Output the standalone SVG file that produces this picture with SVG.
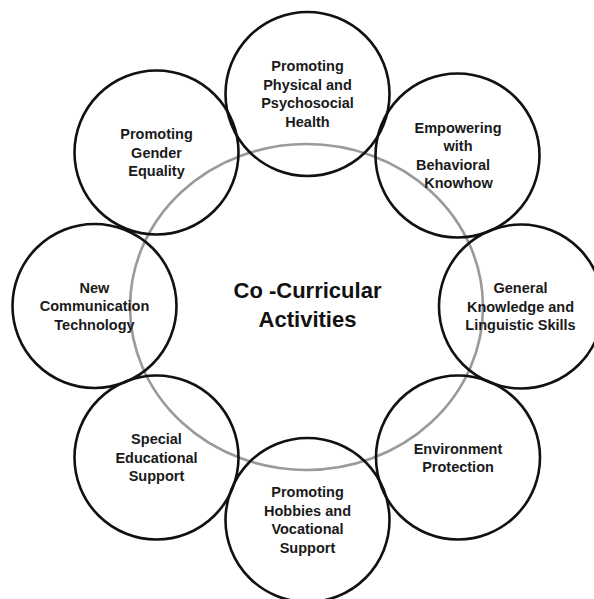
<svg xmlns="http://www.w3.org/2000/svg" width="594" height="599" viewBox="0 0 594 599">
<style>
.bg{fill:#ffffff}
.node{fill:none;stroke:#111111;stroke-width:2.6}
.ring{fill:none;stroke:#9a9a9a;stroke-width:2.6}
.lbl{font-family:"Liberation Sans",Arial,sans-serif;font-weight:bold;font-size:14.5px;fill:#1a1a1a;text-anchor:middle}
.title{font-family:"Liberation Sans",Arial,sans-serif;font-weight:bold;font-size:22px;fill:#111111;text-anchor:middle}
</style>
<rect class="bg" x="0" y="0" width="594" height="599"/>
<g id="ring">
<ellipse class="ring" cx="306.5" cy="307" rx="176.5" ry="163"/>
</g>
<g id="center">
<text class="title" x="307.5" y="298">Co -Curricular</text>
<text class="title" x="307.5" y="327">Activities</text>
</g>
<g id="n-health">
<circle class="node" cx="307.5" cy="94" r="82"/>
<text class="lbl" x="307.5" y="71.2">Promoting</text>
<text class="lbl" x="307.5" y="89.7">Physical and</text>
<text class="lbl" x="307.5" y="108.2">Psychosocial</text>
<text class="lbl" x="307.5" y="126.7">Health</text>
</g>
<g id="n-behavioral">
<circle class="node" cx="457.5" cy="155.5" r="82"/>
<text class="lbl" x="458" y="132.7">Empowering</text>
<text class="lbl" x="458" y="151.2">with</text>
<text class="lbl" x="453" y="169.7">Behavioral</text>
<text class="lbl" x="458.5" y="188.2">Knowhow</text>
</g>
<g id="n-knowledge">
<circle class="node" cx="521" cy="306.5" r="82"/>
<text class="lbl" x="520.5" y="293">General</text>
<text class="lbl" x="520.5" y="311.5">Knowledge and</text>
<text class="lbl" x="520.5" y="330">Linguistic Skills</text>
</g>
<g id="n-environment">
<circle class="node" cx="458" cy="457.5" r="82"/>
<text class="lbl" x="458" y="453.5">Environment</text>
<text class="lbl" x="458" y="472">Protection</text>
</g>
<g id="n-hobbies">
<circle class="node" cx="307.5" cy="520" r="82"/>
<text class="lbl" x="307.5" y="497">Promoting</text>
<text class="lbl" x="307.5" y="515.5">Hobbies and</text>
<text class="lbl" x="307.5" y="534">Vocational</text>
<text class="lbl" x="307.5" y="552.5">Support</text>
</g>
<g id="n-special">
<circle class="node" cx="156.5" cy="457.5" r="82"/>
<text class="lbl" x="156.5" y="444">Special</text>
<text class="lbl" x="156.5" y="462.5">Educational</text>
<text class="lbl" x="156.5" y="481">Support</text>
</g>
<g id="n-communication">
<circle class="node" cx="94.5" cy="306" r="82"/>
<text class="lbl" x="94.5" y="292.5">New</text>
<text class="lbl" x="94.5" y="311">Communication</text>
<text class="lbl" x="94.5" y="329.5">Technology</text>
</g>
<g id="n-gender">
<circle class="node" cx="156.5" cy="152.5" r="82"/>
<text class="lbl" x="156.5" y="139">Promoting</text>
<text class="lbl" x="156.5" y="157.5">Gender</text>
<text class="lbl" x="156.5" y="176">Equality</text>
</g>
</svg>
